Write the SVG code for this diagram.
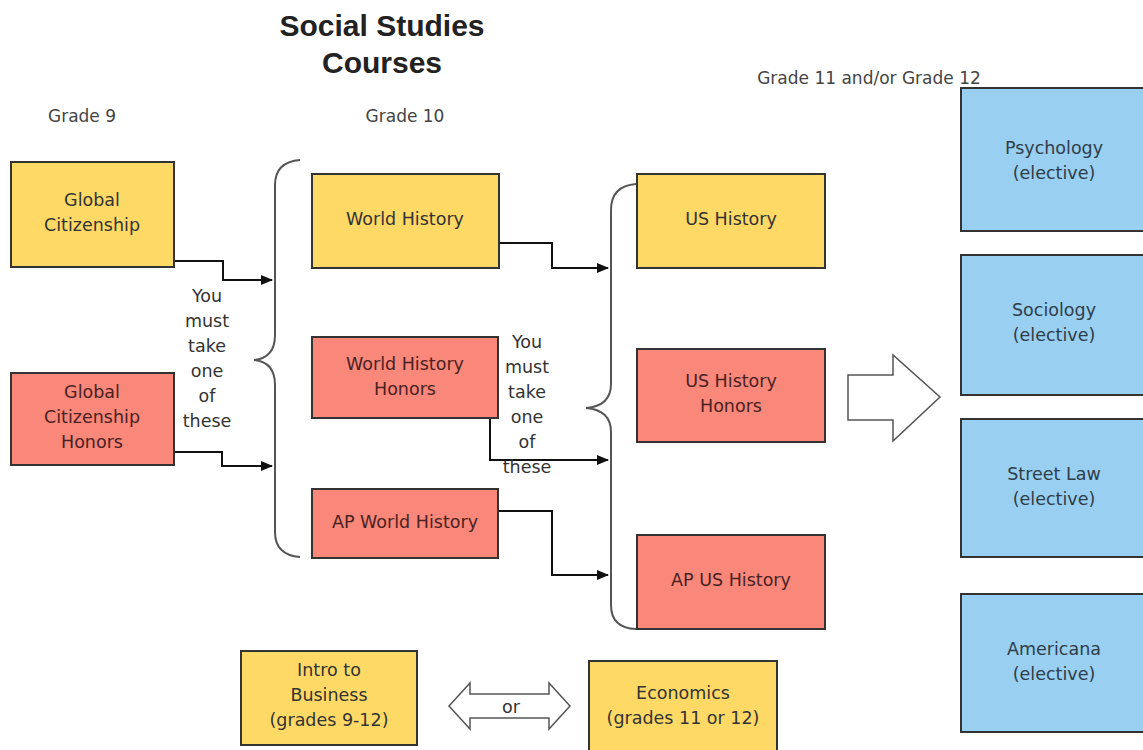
<svg xmlns="http://www.w3.org/2000/svg" width="1143" height="750" viewBox="0 0 1143 750">
<defs>
<style>
text{font-family:"DejaVu Sans","Liberation Sans",Arial,sans-serif;fill:#333;}
.lbl{font-size:17.5px;text-anchor:middle;}
.rt{fill:#4a2222;}
.bt{fill:#2f3d4a;}
.hdr{font-size:17px;text-anchor:middle;fill:#444;}
.title{font-family:"Liberation Sans",Arial,sans-serif;font-size:30px;font-weight:bold;text-anchor:middle;fill:#222;}
.y{fill:#FFD966;stroke:#333;stroke-width:2;}
.r{fill:#F9877A;stroke:#333;stroke-width:2;}
.b{fill:#99CFF0;stroke:#333;stroke-width:2;}
.conn{fill:none;stroke:#111;stroke-width:2;}
.brace{fill:none;stroke:#555;stroke-width:2;}
.hollow{fill:#fff;stroke:#555;stroke-width:1.5;}
</style>
<marker id="ah" markerWidth="12" markerHeight="10" refX="11" refY="5" orient="auto" markerUnits="userSpaceOnUse">
<path d="M0,0 L12,5 L0,10 Z" fill="#111"/>
</marker>
</defs>
<rect width="1143" height="750" fill="#fff"/>
<g id="titles">
<text class="title" x="382" y="36">Social Studies</text>
<text class="title" x="382" y="73">Courses</text>
<text class="hdr" x="82" y="122">Grade 9</text>
<text class="hdr" x="405" y="122">Grade 10</text>
<text class="hdr" x="869" y="84">Grade 11 and/or Grade 12</text>
</g>
<g id="braces">
<path class="brace" d="M300,160 Q275,162 275,185 L275,335 Q275,358 254,360 Q275,362 275,385 L275,532 Q275,555 300,557"/>
<path class="brace" d="M636,184 Q611,186 611,210 L611,384 Q611,406 586,408 Q611,410 611,432 L611,605 Q611,628 636,629"/>
</g>
<g id="connectors">
<path class="conn" d="M174,261 H223 V280 H272" marker-end="url(#ah)"/>
<path class="conn" d="M174,452 H222 V466 H272" marker-end="url(#ah)"/>
<path class="conn" d="M499,243 H552 V268 H608" marker-end="url(#ah)"/>
<path class="conn" d="M490,418 V460 H608" marker-end="url(#ah)"/>
<path class="conn" d="M498,511 H552 V575 H608" marker-end="url(#ah)"/>
<path class="hollow" d="M848,375 H893 V355 L940,397 L893,441 V420 H848 Z"/>
<path class="hollow" d="M449,706 L470,683 V694 H549 V683 L570,706 L549,729 V718 H470 V729 Z"/>
</g>
<g id="note1">
<text class="lbl" x="207" y="302">You</text>
<text class="lbl" x="207" y="327">must</text>
<text class="lbl" x="207" y="352">take</text>
<text class="lbl" x="207" y="377">one</text>
<text class="lbl" x="207" y="402">of</text>
<text class="lbl" x="207" y="427">these</text>
</g>
<g id="note2">
<text class="lbl" x="527" y="348">You</text>
<text class="lbl" x="527" y="373">must</text>
<text class="lbl" x="527" y="398">take</text>
<text class="lbl" x="527" y="423">one</text>
<text class="lbl" x="527" y="448">of</text>
<text class="lbl" x="527" y="473">these</text>
</g>
<g id="or-label"><text class="lbl" x="511" y="713">or</text></g>
<g id="global-citizenship"><rect class="y" x="11" y="162" width="163" height="105"/>
<text class="lbl" x="92" y="206">Global</text><text class="lbl" x="92" y="231">Citizenship</text></g>
<g id="global-citizenship-honors"><rect class="r" x="11" y="373" width="163" height="92"/>
<text class="lbl rt" x="92" y="398">Global</text><text class="lbl rt" x="92" y="423">Citizenship</text><text class="lbl rt" x="92" y="448">Honors</text></g>
<g id="world-history"><rect class="y" x="312" y="174" width="187" height="94"/>
<text class="lbl" x="405" y="225">World History</text></g>
<g id="world-history-honors"><rect class="r" x="312" y="337" width="186" height="81"/>
<text class="lbl rt" x="405" y="370">World History</text><text class="lbl rt" x="405" y="395">Honors</text></g>
<g id="ap-world-history"><rect class="r" x="312" y="489" width="186" height="69"/>
<text class="lbl rt" x="405" y="528">AP World History</text></g>
<g id="us-history"><rect class="y" x="637" y="174" width="188" height="94"/>
<text class="lbl" x="731" y="225">US History</text></g>
<g id="us-history-honors"><rect class="r" x="637" y="349" width="188" height="93"/>
<text class="lbl rt" x="731" y="387">US History</text><text class="lbl rt" x="731" y="412">Honors</text></g>
<g id="ap-us-history"><rect class="r" x="637" y="535" width="188" height="94"/>
<text class="lbl rt" x="731" y="586">AP US History</text></g>
<g id="psychology"><rect class="b" x="961" y="88" width="190" height="143"/>
<text class="lbl bt" x="1054" y="154">Psychology</text><text class="lbl bt" x="1054" y="179">(elective)</text></g>
<g id="sociology"><rect class="b" x="961" y="255" width="190" height="140"/>
<text class="lbl bt" x="1054" y="316">Sociology</text><text class="lbl bt" x="1054" y="341">(elective)</text></g>
<g id="street-law"><rect class="b" x="961" y="419" width="190" height="138"/>
<text class="lbl bt" x="1054" y="480">Street Law</text><text class="lbl bt" x="1054" y="505">(elective)</text></g>
<g id="americana"><rect class="b" x="961" y="594" width="190" height="138"/>
<text class="lbl bt" x="1054" y="655">Americana</text><text class="lbl bt" x="1054" y="680">(elective)</text></g>
<g id="intro-to-business"><rect class="y" x="241" y="651" width="176" height="94"/>
<text class="lbl" x="329" y="676">Intro to</text><text class="lbl" x="329" y="701">Business</text><text class="lbl" x="329" y="726">(grades 9-12)</text></g>
<g id="economics"><rect class="y" x="589" y="661" width="188" height="95"/>
<text class="lbl" x="683" y="699">Economics</text><text class="lbl" x="683" y="724">(grades 11 or 12)</text></g>
</svg>
